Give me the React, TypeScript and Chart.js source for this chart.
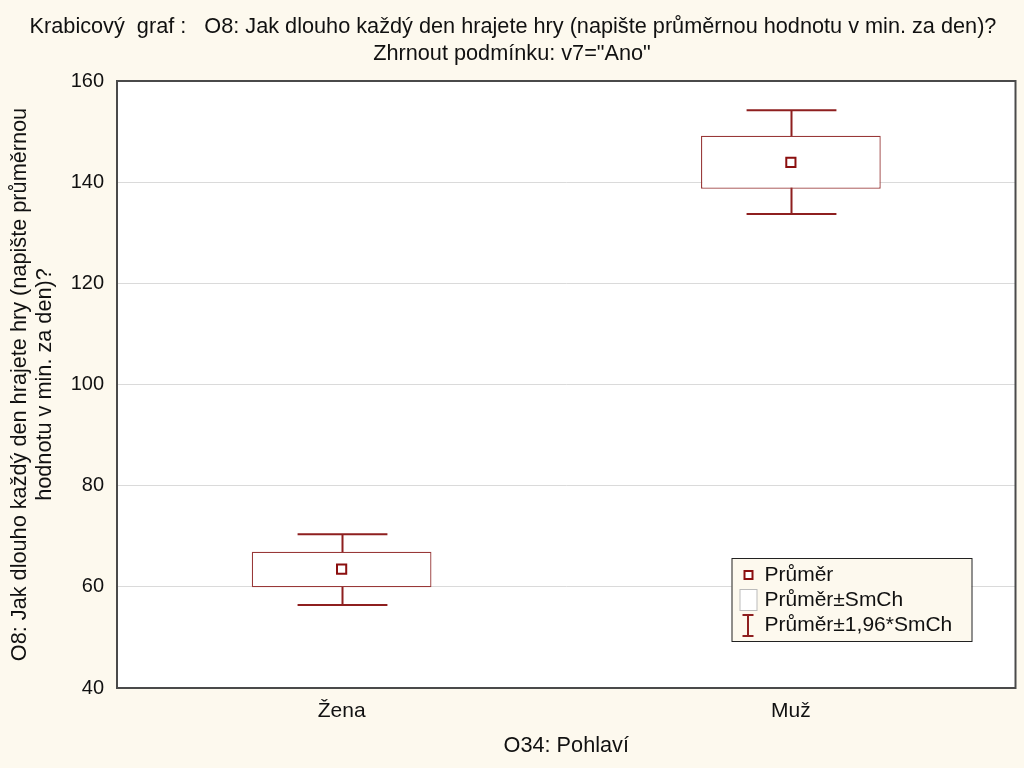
import React, { useEffect, useRef } from "react";
import { Chart, registerables } from "chart.js";

Chart.register(...registerables);

const categories = ["Žena", "Muž"];
const means = [63.5, 143.9];
const seLow = [59.9, 138.7];
const seHigh = [66.95, 149.2];
const ciLow = [56.4, 133.7];
const ciHigh = [70.4, 154.2];
const yTicks = [40, 60, 80, 100, 120, 140, 160];

const titleLines = [
  "Krabicový  graf :   O8: Jak dlouho každý den hrajete hry (napište průměrnou hodnotu v min. za den)?",
  'Zhrnout podmínku: v7="Ano"',
];
const yTitle = ["O8: Jak dlouho každý den hrajete hry (napište průměrnou", "hodnotu v min. za den)?"];
const xTitle = "O34: Pohlaví";
const legendItems = ["Průměr", "Průměr±SmCh", "Průměr±1,96*SmCh"];

const FONT = "'Liberation Sans', Arial, sans-serif";
const BG = "#fdf9ee";
const BOX = "#983838";
const WHISK = "#8e1f1f";
const MEAN = "#8b0f0f";

export default function App() {
  const ref = useRef<HTMLCanvasElement>(null);
  useEffect(() => {
    const canvas = ref.current!;
    const plugin = {
      id: "custom",
      beforeDraw(chart: any) {
        const { ctx, chartArea: a } = chart;
        ctx.save();
        ctx.fillStyle = BG;
        ctx.fillRect(0, 0, chart.width, chart.height);
        ctx.fillStyle = "#ffffff";
        ctx.fillRect(a.left, a.top, a.right - a.left, a.bottom - a.top);
        ctx.fillStyle = "#111";
        ctx.font = `21.7px ${FONT}`;
        ctx.textAlign = "center";
        ctx.textBaseline = "middle";
        ctx.fillText(titleLines[0], chart.width / 2 + 1, 27);
        ctx.fillText(titleLines[1], chart.width / 2, 54);
        ctx.restore();
      },
      beforeDatasetsDraw(chart: any) {
        const { ctx } = chart;
        const xs = chart.scales.x;
        const ys = chart.scales.y;
        const meta = chart.getDatasetMeta(1);
        ctx.save();
        ctx.strokeStyle = WHISK;
        ctx.lineWidth = 2;
        categories.forEach((_, i) => {
          const x = Math.round(xs.getPixelForValue(i)) + 0.5;
          const half = (meta.data[i] ? meta.data[i].width : 180) / 4;
          const y1 = ys.getPixelForValue(ciHigh[i]);
          const y2 = ys.getPixelForValue(ciLow[i]);
          ctx.beginPath();
          ctx.moveTo(x, y1);
          ctx.lineTo(x, y2);
          ctx.moveTo(x - half, y1);
          ctx.lineTo(x + half, y1);
          ctx.moveTo(x - half, y2);
          ctx.lineTo(x + half, y2);
          ctx.stroke();
        });
        ctx.restore();
      },
      afterDraw(chart: any) {
        const { ctx, chartArea: a } = chart;
        ctx.save();
        // frame
        ctx.strokeStyle = "#4a4a4a";
        ctx.lineWidth = 2;
        ctx.strokeRect(a.left, a.top, a.right - a.left, a.bottom - a.top);
        // legend
        const lx = a.right - 284;
        const ly = a.bottom - 130;
        const lw = 240;
        const lh = 83;
        ctx.fillStyle = BG;
        ctx.fillRect(lx, ly, lw, lh);
        ctx.strokeStyle = "#222";
        ctx.lineWidth = 1;
        ctx.strokeRect(lx + 0.5, ly + 0.5, lw, lh);
        ctx.fillStyle = "#111";
        ctx.font = `21px ${FONT}`;
        ctx.textAlign = "left";
        ctx.textBaseline = "middle";
        const rowY = [ly + 17, ly + 42, ly + 67];
        legendItems.forEach((t, i) => ctx.fillText(t, lx + 33, rowY[i]));
        // mean icon
        ctx.fillStyle = "#fff";
        ctx.strokeStyle = MEAN;
        ctx.lineWidth = 2;
        ctx.fillRect(lx + 13, rowY[0] - 4, 8, 8);
        ctx.strokeRect(lx + 13, rowY[0] - 4, 8, 8);
        // box icon
        ctx.strokeStyle = "#bbb";
        ctx.lineWidth = 1;
        ctx.fillRect(lx + 8.5, rowY[1] - 10.5, 17, 21);
        ctx.strokeRect(lx + 8.5, rowY[1] - 10.5, 17, 21);
        // whisker icon
        ctx.strokeStyle = WHISK;
        ctx.lineWidth = 2;
        ctx.beginPath();
        ctx.moveTo(lx + 16.5, rowY[2] - 10);
        ctx.lineTo(lx + 16.5, rowY[2] + 11);
        ctx.moveTo(lx + 11, rowY[2] - 10);
        ctx.lineTo(lx + 22, rowY[2] - 10);
        ctx.moveTo(lx + 11, rowY[2] + 11);
        ctx.lineTo(lx + 22, rowY[2] + 11);
        ctx.stroke();
        ctx.restore();
      },
    };
    const chart = new Chart(canvas, {
      type: "bar",
      data: {
        labels: categories,
        datasets: [
          {
            type: "line",
            label: "Průměr",
            data: means,
            showLine: false,
            pointStyle: "rect",
            pointRadius: 6.5,
            pointBorderWidth: 2,
            pointBackgroundColor: "#ffffff",
            pointBorderColor: MEAN,
            order: 0,
          } as any,
          {
            type: "bar",
            label: "Průměr±SmCh",
            data: categories.map((_, i) => [seLow[i], seHigh[i]]),
            backgroundColor: "#ffffff",
            borderColor: BOX,
            borderWidth: 1.3,
            borderSkipped: false,
            barPercentage: 0.4,
            categoryPercentage: 1,
            grouped: false,
            order: 1,
          } as any,
        ],
      },
      options: {
        animation: false,
        responsive: false,
        maintainAspectRatio: false,
        layout: { padding: { top: 81, right: 8, bottom: 0, left: 0 } },
        plugins: { legend: { display: false }, tooltip: { enabled: false }, title: { display: false } },
        scales: {
          x: {
            type: "category",
            offset: true,
            grid: { display: false, drawTicks: false },
            border: { display: false },
            ticks: { color: "#111", font: { family: FONT, size: 21 }, padding: 11 },
            title: { display: true, text: xTitle, color: "#111", font: { family: FONT, size: 21.7 }, padding: { top: 0, bottom: 9 } },
            afterFit(scale: any) {
              scale.height = 80;
            },
          },
          y: {
            type: "linear",
            min: 40,
            max: 160,
            afterBuildTicks(scale: any) {
              scale.ticks = yTicks.map((v) => ({ value: v }));
            },
            grid: { color: "#dadada", lineWidth: 1, drawTicks: false },
            border: { display: false },
            ticks: { color: "#111", font: { family: FONT, size: 20 }, padding: 13 },
            title: {
              display: true,
              text: yTitle,
              color: "#111",
              font: { family: FONT, size: 21.7, lineHeight: 1.15 },
              padding: { top: 8, bottom: 0 },
            },
            afterFit(scale: any) {
              scale.width = 117;
            },
          },
        },
      },
      plugins: [plugin],
    });
    return () => chart.destroy();
  }, []);
  return (
    <div style={{ position: "absolute", left: 0, top: 0, width: 1024, height: 768 }}>
      <canvas ref={ref} width={1024} height={768} style={{ width: 1024, height: 768, display: "block" }} />
    </div>
  );
}
